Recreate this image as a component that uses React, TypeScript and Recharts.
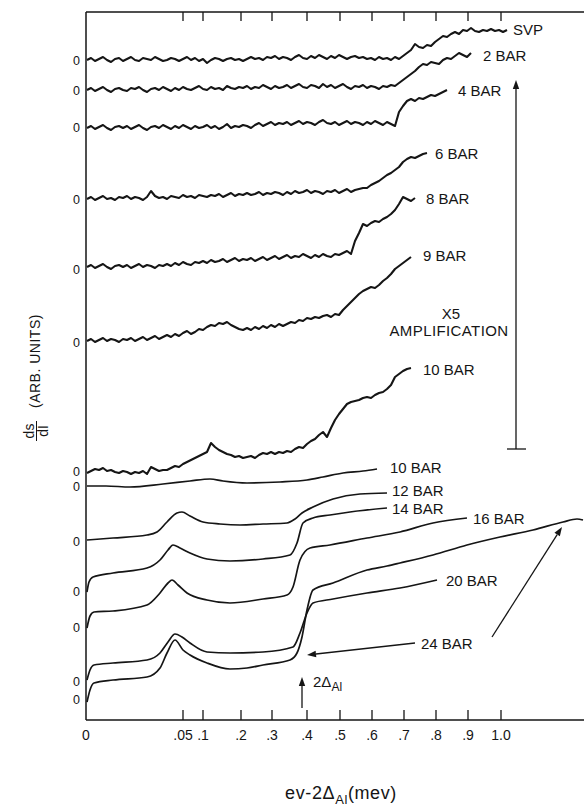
import React from 'react';
import { LineChart, Line, XAxis, YAxis, ReferenceLine } from 'recharts';

const FONT = "'Liberation Sans', Arial, Helvetica, sans-serif";
const INK = '#151515';

// x: recorder position in the figure's own units (0 at eV-2Δ = 0), y: dS/dI in arbitrary units
const SAMPLE_START = 1;
const SAMPLE_STEP = 4;

// x5 amplified traces (sampled every SAMPLE_STEP units)
const svpY = [
  660, 662, 659, 661, 663, 660, 658, 661, 662, 659,
  661, 663, 660, 659, 662, 661, 660, 663, 661, 659,
  660, 662, 661, 659, 661, 663, 660, 662, 659, 661,
  657, 660, 662, 661, 659, 661, 662, 660, 661, 659,
  661, 663, 661, 662, 660, 663, 662, 664, 661, 663,
  662, 660, 663, 665, 662, 661, 664, 662, 665, 663,
  661, 664, 662, 665, 663, 661, 663, 664, 662, 663,
  661, 662, 660, 663, 661, 662, 660, 663, 661, 664,
  667, 670, 676, 673, 672, 675, 674, 678, 681, 684,
  683, 686, 688, 686, 690, 689, 692, 689, 688, 690,
  689, 691, 689, 690, 688, 690,
];
const bar2Y = [
  630, 632, 629, 631, 633, 630, 628, 631, 632, 630,
  629, 632, 631, 633, 630, 628, 631, 632, 630, 633,
  631, 629, 632, 630, 633, 631, 630, 632, 634, 631,
  630, 633, 631, 632, 630, 634, 632, 631, 633, 632,
  634, 631, 633, 632, 635, 633, 631, 634, 632, 633,
  635, 632, 634, 636, 633, 632, 635, 634, 632, 636,
  633, 635, 632, 634, 636, 633, 631, 634, 633, 635,
  632, 634, 633, 631, 634, 633, 635, 634, 637, 640,
  643, 646, 649, 653, 656, 655, 658, 657, 656, 660,
  662, 661, 664, 667, 665, 663, 667,
];
const bar4Y = [
  592, 594, 591, 593, 595, 592, 590, 593, 594, 592,
  594, 591, 593, 595, 592, 590, 593, 594, 592, 595,
  593, 591, 594, 592, 595, 593, 591, 594, 592, 593,
  595, 592, 594, 591, 593, 596, 592, 594, 593, 595,
  594, 592, 595, 597, 594, 596, 598, 595, 597, 596,
  598, 595, 597, 599, 596, 598, 597, 595, 598, 600,
  597, 596, 598, 595, 597, 599, 596, 598, 597, 595,
  598, 596, 599, 597, 595, 598, 596, 594, 608, 614,
  619, 621, 619, 622, 621, 623, 625, 624, 626, 628,
  630,
];
const bar6Y = [
  521, 523, 520, 522, 524, 521, 522, 520, 523, 522,
  524, 521, 523, 522, 520, 523, 529, 524, 522, 523,
  521, 524, 523, 522, 525, 523, 524, 522, 525, 524,
  523, 525, 524, 526, 523, 525, 527, 524, 526, 525,
  527, 525, 526, 528, 525, 527, 526, 528, 527, 525,
  528, 526, 529, 527, 528, 530, 527, 529, 528, 526,
  529, 528, 530, 527, 529, 531, 528, 530, 531, 532,
  532, 535, 537, 539, 542, 545, 547, 550, 553, 558,
  561, 563, 562, 564, 566, 567,
];
const bar8Y = [
  453, 455, 452, 454, 456, 453, 451, 454, 455, 453,
  455, 452, 454, 456, 453, 455, 454, 452, 455, 454,
  456, 454, 457, 455, 458, 456, 455, 458, 457, 459,
  457, 460, 458, 459, 461, 458, 460, 462, 459, 461,
  460, 462, 459, 461, 463, 460, 462, 464, 461, 463,
  465, 462, 464, 463, 466, 464, 462, 465, 463, 466,
  464, 463, 466, 465, 467, 469, 466, 479, 487, 496,
  494, 497, 499, 498, 501, 503, 506, 510, 516, 523,
  521, 519, 522,
];
const bar9Y = [
  379, 381, 378, 380, 382, 379, 381, 380, 378, 381,
  380, 382, 379, 381, 383, 380, 382, 384, 381, 383,
  385, 383, 386, 384, 387, 389, 386, 388, 391, 390,
  393, 395, 394, 397, 396, 398, 395, 393, 391, 390,
  392, 390, 393, 391, 394, 392, 395, 393, 396, 394,
  396, 398, 397, 400, 399, 402, 401, 403, 402, 404,
  405, 403, 406, 405, 410, 414, 418, 422, 426, 429,
  431, 433, 432, 435, 439, 442, 446, 451, 454, 457,
  460, 463,
];
const bar10AmpY = [
  247, 249, 251, 250, 252, 249, 250, 248, 247, 249,
  248, 246, 248, 247, 249, 246, 253, 251, 249, 250,
  250, 252, 254, 253, 256, 258, 260, 262, 264, 266,
  268, 277, 273, 270, 268, 266, 265, 263, 264, 262,
  263, 264, 262, 265, 267, 266, 268, 266, 268, 267,
  269, 268, 271, 273, 272, 276, 279, 281, 285, 288,
  283, 292, 300, 306, 311, 316, 318, 319, 320, 322,
  323, 322, 325, 327, 328, 331, 335, 343, 346, 349,
  351, 352,
];

// unamplified traces, [x, y] readings
const bar10Pts = [[1, 234], [20, 234], [44, 233], [77, 236], [104, 239], [124, 241], [137, 239], [161, 237], [194, 238], [221, 240], [237, 243], [257, 247], [277, 249], [291, 251]];
const bar12Pts = [[1, 180], [27, 182], [61, 185], [71, 188], [81, 198], [91, 207], [96, 208], [104, 204], [117, 198], [134, 196], [154, 195], [177, 196], [201, 197], [209, 201], [216, 207], [227, 213], [247, 221], [274, 226], [301, 227]];
const bar14Pts = [[1, 128], [3, 138], [7, 143], [27, 147], [61, 152], [74, 160], [82, 170], [87, 175], [94, 172], [104, 167], [121, 161], [144, 159], [177, 161], [204, 165], [211, 177], [217, 197], [227, 202], [244, 205], [264, 208], [301, 212]];
const bar16Pts = [[1, 92], [4, 104], [8, 108], [27, 109], [61, 115], [74, 127], [82, 137], [86, 140], [92, 135], [101, 127], [121, 120], [144, 117], [177, 121], [201, 125], [207, 133], [214, 160], [224, 172], [244, 175], [281, 182], [314, 188], [347, 197], [381, 202]];
const bar20Pts = [[1, 40], [4, 50], [8, 55], [27, 57], [61, 60], [74, 67], [82, 78], [89, 86], [96, 83], [104, 77], [121, 68], [144, 67], [177, 68], [207, 73], [214, 87], [221, 107], [227, 117], [247, 121], [281, 127], [314, 132], [351, 140]];
const bar24Pts = [[1, 18], [4, 30], [8, 37], [27, 40], [61, 43], [74, 52], [81, 67], [89, 80], [97, 70], [104, 65], [121, 57], [144, 51], [161, 52], [177, 55], [204, 60], [211, 67], [216, 83], [221, 110], [227, 130], [247, 137], [281, 150], [301, 154], [314, 157], [347, 165], [381, 175], [414, 183], [447, 190], [477, 198], [491, 201], [497, 200]];

const traceNames = ['SVP', '2 BAR', '4 BAR', '6 BAR', '8 BAR', '9 BAR', '10 BAR', '10 BAR', '12 BAR', '14 BAR', '16 BAR', '20 BAR', '24 BAR'];

const xTickPositions = [0, 97, 117, 155, 186, 221, 254, 286, 318, 350, 382, 415];
const xTickLabels = ['0', '.05', '.1', '.2', '.3', '.4', '.5', '.6', '.7', '.8', '.9', '1.0'];
const zeroLevels = [659, 629, 592, 520, 450, 377, 248, 233, 178, 128, 92, 38, 20];

const X_DOMAIN: [number, number] = [0, 498];
const Y_DOMAIN: [number, number] = [0, 708];

// annotation anchors (chart units)
const ampBarPts = [[430, 271], [430, 640]];
const ampFootPts = [[421, 271], [440, 271]];
const arrow24aPts = [[329, 77], [221, 65]];
const arrow24bPts = [[406, 83], [476, 193]];
const gapArrowPts = [[216, 12], [216, 43]];

const sampled = (ys: number[]) => ys.map((y, i) => ({ x: SAMPLE_START + i * SAMPLE_STEP, y }));
const paired = (pts: number[][]) => pts.map(([x, y]) => ({ x, y }));

const seriesData = [
  sampled(svpY), sampled(bar2Y), sampled(bar4Y), sampled(bar6Y), sampled(bar8Y), sampled(bar9Y), sampled(bar10AmpY),
  paired(bar10Pts), paired(bar12Pts), paired(bar14Pts), paired(bar16Pts), paired(bar20Pts), paired(bar24Pts),
];
const smoothFlags = [false, false, false, false, false, false, false, true, true, true, true, true, true];
// label offsets from each trace end (px); null = labelled separately
const labelOffsets: ([number, number] | null)[] = [
  [6, -1], [12, 2], [11, 0], [8, 0], [11, 0], [12, -2], [12, 1],
  [13, -2], [5, -3], [5, 0], [6, 0], [9, 0], null,
];

const endLabel = (text: string, n: number, off: [number, number] | null) => (p: any) => {
  if (!off || p.index !== n - 1) return null;
  return (
    <text x={p.x + off[0]} y={p.y + off[1]} fontSize={15} fontFamily={FONT} fill={INK} dominantBaseline="central">
      {text}
    </text>
  );
};

const arrowShape = (withHead: boolean) => (p: any) => {
  const { x1, y1, x2, y2 } = p;
  const dx = x2 - x1;
  const dy = y2 - y1;
  const len = Math.sqrt(dx * dx + dy * dy) || 1;
  const ux = dx / len;
  const uy = dy / len;
  const hl = 9;
  const hw = 3.2;
  const bx = x2 - ux * hl;
  const by = y2 - uy * hl;
  return (
    <g>
      <line x1={x1} y1={y1} x2={withHead ? bx : x2} y2={withHead ? by : y2} stroke={INK} strokeWidth={1.3} />
      {withHead && (
        <polygon
          points={`${x2},${y2} ${bx - uy * hw},${by + ux * hw} ${bx + uy * hw},${by - ux * hw}`}
          fill={INK}
        />
      )}
    </g>
  );
};

const segmentOf = (pts: number[][]) => [{ x: pts[0][0], y: pts[0][1] }, { x: pts[1][0], y: pts[1][1] }];

export default function App() {
  return (
    <div style={{ position: 'absolute', left: 0, top: 0, width: 584, height: 806, background: '#fff' }}>
      <LineChart width={584} height={806} margin={{ top: 12, right: 0, left: 56, bottom: 56 }}>
        <XAxis
          dataKey="x"
          type="number"
          domain={X_DOMAIN}
          ticks={xTickPositions}
          interval={0}
          tickFormatter={(v: number) => xTickLabels[xTickPositions.indexOf(v)] ?? ''}
          tickLine={false}
          tickSize={6}
          tickMargin={4}
          axisLine={{ stroke: INK, strokeWidth: 1.5 }}
          tick={{ fontSize: 14, fill: INK, fontFamily: FONT }}
          height={30}
          allowDataOverflow
        />
        <YAxis
          type="number"
          domain={Y_DOMAIN}
          ticks={zeroLevels}
          interval={0}
          tickFormatter={() => '0'}
          tickLine={false}
          tickSize={0}
          tickMargin={6}
          axisLine={{ stroke: INK, strokeWidth: 1.5 }}
          tick={{ fontSize: 12.5, fill: INK, fontFamily: FONT }}
          width={30}
          allowDataOverflow
        />
        <ReferenceLine y={Y_DOMAIN[1]} stroke={INK} strokeWidth={1.5} />
        {xTickPositions.slice(1).map((t, i) => (
          <ReferenceLine key={`b${i}`} segment={[{ x: t, y: 0 }, { x: t, y: 10 }]} stroke={INK} strokeWidth={1.3} />
        ))}
        {xTickPositions.slice(1).map((t, i) => (
          <ReferenceLine key={`t${i}`} segment={[{ x: t, y: Y_DOMAIN[1] }, { x: t, y: Y_DOMAIN[1] - 9 }]} stroke={INK} strokeWidth={1.3} />
        ))}
        <ReferenceLine segment={segmentOf(ampBarPts)} shape={arrowShape(true)} />
        <ReferenceLine segment={segmentOf(ampFootPts)} shape={arrowShape(false)} />
        <ReferenceLine segment={segmentOf(arrow24aPts)} shape={arrowShape(true)} />
        <ReferenceLine segment={segmentOf(arrow24bPts)} shape={arrowShape(true)} />
        <ReferenceLine segment={segmentOf(gapArrowPts)} shape={arrowShape(true)} />
        {seriesData.map((d, i) => (
          <Line
            key={`s${i}`}
            data={d}
            dataKey="y"
            type={smoothFlags[i] ? 'monotone' : 'linear'}
            stroke={INK}
            strokeWidth={smoothFlags[i] ? 1.7 : 2.1}
            strokeLinejoin="round"
            dot={false}
            activeDot={false}
            isAnimationActive={false}
            label={endLabel(traceNames[i], d.length, labelOffsets[i])}
          />
        ))}
      </LineChart>
      <svg
        width={584}
        height={806}
        style={{ position: 'absolute', left: 0, top: 0, pointerEvents: 'none' }}
        fontFamily={FONT}
        fill={INK}
      >
        <text x={451} y={313} fontSize={15} textAnchor="middle" dominantBaseline="central">X5</text>
        <text x={449} y={330} fontSize={15} textAnchor="middle" dominantBaseline="central" letterSpacing={0.4}>AMPLIFICATION</text>
        <text x={421} y={643} fontSize={15} dominantBaseline="central">{traceNames[12]}</text>
        <text x={313} y={687} fontSize={15}>
          2Δ<tspan fontSize={12} dy={4}>Al</tspan>
        </text>
        <text x={341} y={799} fontSize={18} textAnchor="middle" letterSpacing={0.6}>
          ev-2Δ<tspan fontSize={13} dy={5}>Al</tspan>
          <tspan dy={-5}>(mev)</tspan>
        </text>
        <g transform="translate(40,410) rotate(-90)">
          <text x={2} y={0} fontSize={14} letterSpacing={0.5}>(ARB. UNITS)</text>
          <text x={-21} y={-6} fontSize={14} textAnchor="middle">ds</text>
          <line x1={-31} y1={-3.5} x2={-11} y2={-3.5} stroke={INK} strokeWidth={1} />
          <text x={-21} y={8} fontSize={14} textAnchor="middle">dI</text>
        </g>
      </svg>
    </div>
  );
}
